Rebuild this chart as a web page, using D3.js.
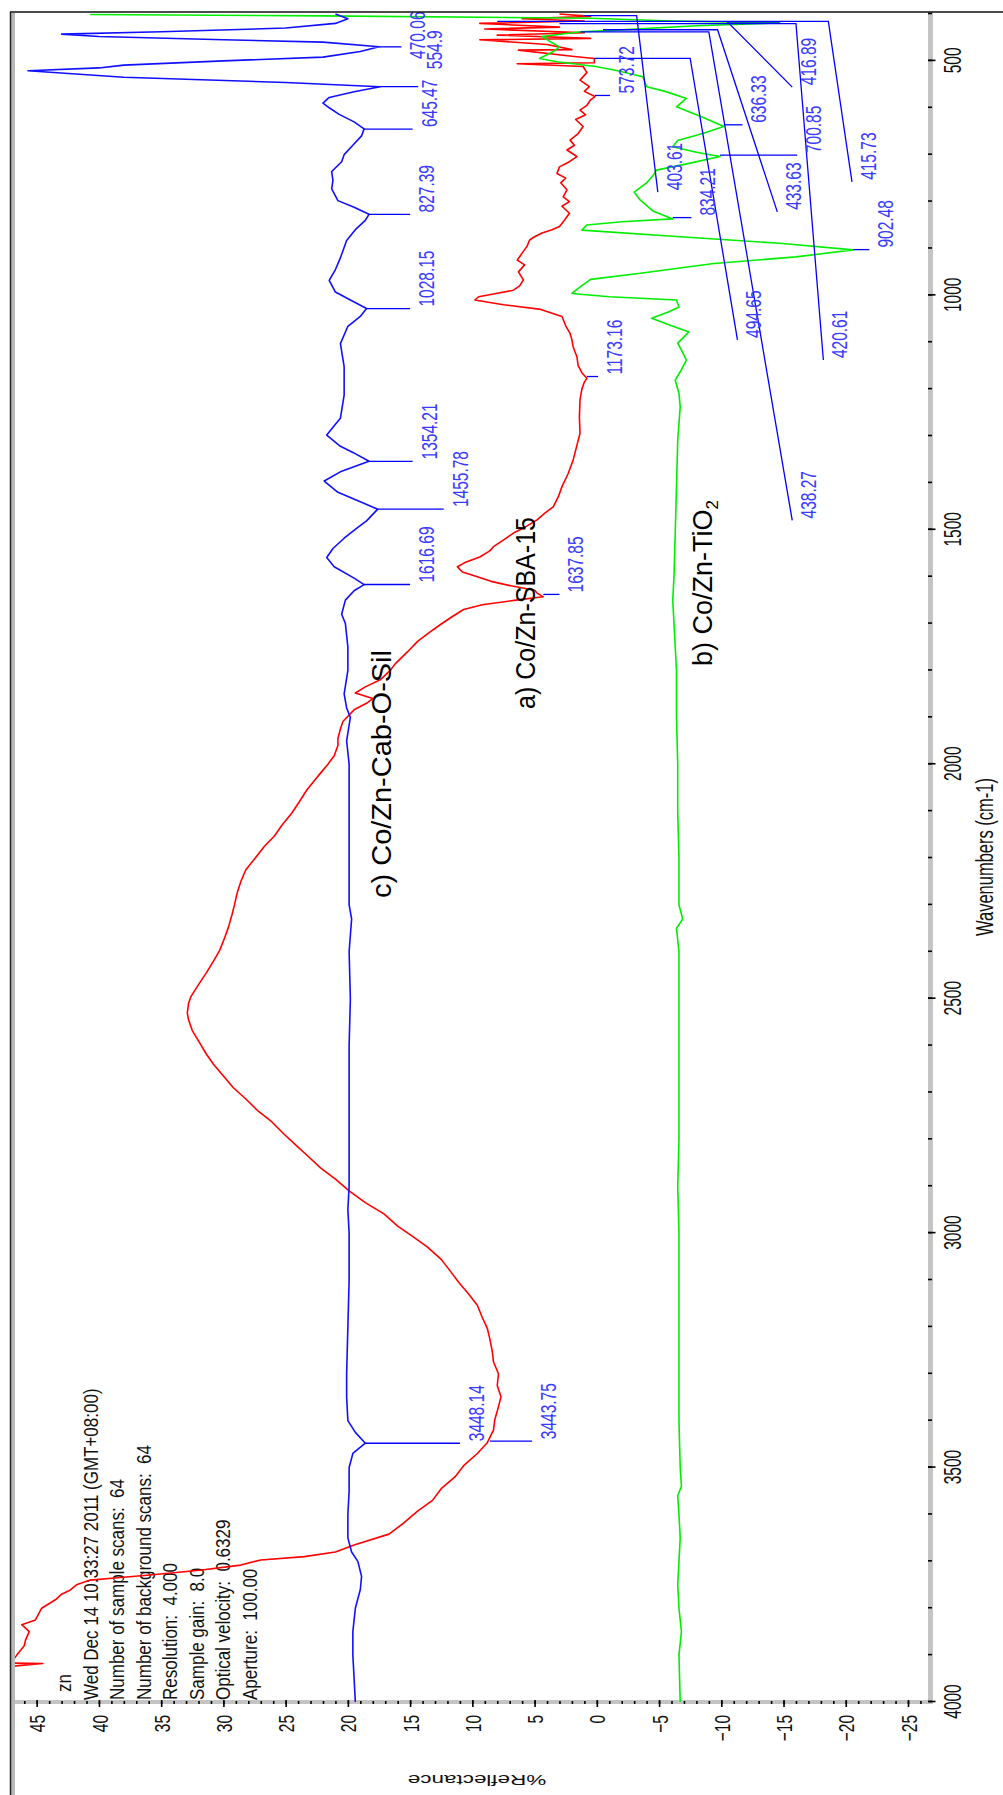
<!DOCTYPE html>
<html>
<head>
<meta charset="utf-8">
<script src="https://cdn.jsdelivr.net/npm/d3@7"></script>
<style>
  html, body { margin: 0; padding: 0; background: #ffffff; }
  svg { display: block; }
  text { font-family: "Liberation Sans", Arial, sans-serif; white-space: pre; }
</style>
</head>
<body>
<svg id="chart" width="1003" height="1795"></svg>
<script>
// ---------------- data ----------------
const wavenumberTicks = [500, 1000, 1500, 2000, 2500, 3000, 3500, 4000];
const reflectanceTicks = [-25, -20, -15, -10, -5, 0, 5, 10, 15, 20, 25, 30, 35, 40, 45];

// a) Co/Zn-SBA-15 (red)
const wnSBA = [4000, 3950, 3925, 3918, 3917, 3915, 3900, 3880, 3868, 3850, 3835, 3825, 3800, 3782, 3770, 3761, 3750, 3740, 3735, 3729, 3719, 3708, 3697, 3690, 3680, 3665, 3642, 3620, 3593, 3570, 3545, 3520, 3496, 3470, 3447, 3420, 3398, 3370, 3349, 3325, 3300, 3275, 3252, 3225, 3203, 3180, 3154, 3130, 3105, 3080, 3056, 3030, 3007, 2985, 2959, 2935, 2910, 2885, 2861, 2836, 2812, 2787, 2763, 2740, 2714, 2690, 2665, 2640, 2617, 2590, 2568, 2545, 2531, 2510, 2495, 2470, 2446, 2420, 2397, 2370, 2348, 2320, 2299, 2275, 2250, 2225, 2202, 2175, 2153, 2130, 2104, 2080, 2055, 2035, 2019, 2000, 1982, 1960, 1945, 1925, 1909, 1895, 1884, 1870, 1860, 1848, 1835, 1820, 1800, 1786, 1760, 1738, 1720, 1701, 1685, 1670, 1660, 1650, 1643, 1635, 1629, 1620, 1610, 1600, 1590, 1579, 1570, 1558, 1545, 1536, 1520, 1507, 1495, 1479, 1465, 1451, 1430, 1408, 1380, 1351, 1320, 1294, 1260, 1223, 1200, 1185, 1177, 1165, 1150, 1131, 1110, 1095, 1081, 1065, 1045, 1030, 1020, 1010, 1003, 997, 989, 980, 967, 950, 935, 925, 910, 895, 882, 875, 867, 860, 853, 840, 825, 810, 800, 790, 775, 760, 750, 740, 726, 715, 704, 690, 680, 669, 655, 640, 625, 615, 605, 595, 583, 576, 565, 555, 541, 525, 512, 506, 504, 495, 490, 477, 476, 465, 455, 452, 445, 440, 432, 428, 420, 415, 410, 405, 400];
const refSBA = [49, 48.5, 47.6, 44.5, 47.2, 47.0, 46.6, 46.0, 45.9, 45.6, 46.2, 45.1, 44.6, 43.5, 43.0, 42.3, 41.8, 40.7, 38.5, 35.9, 31.9, 28.6, 27.0, 23.5, 21.0, 19.5, 16.7, 15.6, 14.4, 13.2, 12.5, 11.4, 10.7, 9.6, 8.8, 8.3, 8.2, 7.9, 7.7, 8.0, 7.9, 8.3, 8.4, 8.6, 8.8, 9.2, 9.6, 10.3, 11.1, 11.8, 12.5, 13.6, 14.8, 16.0, 17.1, 18.6, 19.9, 21.0, 22.2, 23.2, 24.2, 25.2, 26.1, 27.2, 28.2, 29.2, 30.0, 30.8, 31.4, 32.0, 32.5, 32.8, 32.9, 32.8, 32.6, 32.0, 31.4, 30.8, 30.3, 29.9, 29.6, 29.3, 29.1, 28.9, 28.6, 28.2, 27.5, 26.7, 25.9, 25.3, 24.5, 23.9, 23.3, 22.7, 22.2, 21.6, 21.1, 20.8, 20.8, 20.6, 20.4, 19.9, 19.5, 18.5, 18.0, 19.4, 18.6, 17.4, 16.6, 16.2, 15.2, 14.4, 13.5, 12.5, 11.6, 10.7, 9.2, 6.5, 4.3, 4.8, 5.0, 6.8, 8.5, 9.6, 10.8, 11.2, 10.6, 9.4, 8.6, 8.3, 7.4, 6.7, 5.8, 4.8, 4.2, 3.5, 3.1, 2.8, 2.3, 1.9, 1.6, 1.35, 1.4, 1.35, 1.2, 1.0, 0.8, 1.2, 1.5, 1.6, 1.9, 2.0, 2.15, 2.5, 2.8, 4.5, 7.5, 9.8, 9.5, 8.3, 6.7, 6.2, 5.9, 6.3, 5.8, 6.4, 6.0, 5.6, 5.4, 5.0, 4.4, 3.6, 3.0, 2.6, 2.2, 2.8, 2.2, 2.7, 2.4, 2.9, 2.5, 3.2, 3.0, 2.2, 1.6, 2.4, 1.8, 2.15, 1.5, 1.1, 1.7, 0.9, 1.35, 0.8, 0.5, 0.15, 1.0, 0.6, 1.35, 0.8, 1.1, 6.4, 0.2, 0.2, 2.0, 6.3, 2.0, 4.0, 9.4, 0.5, 8.0, 1.0, 9.0, 3.0, 9.4, 1.0, 6.0, 0.5, 3.0];

// b) Co/Zn-TiO2 (green)
const wnTiO2 = [4000, 3900, 3850, 3800, 3750, 3700, 3650, 3600, 3560, 3540, 3500, 3400, 3300, 3200, 3100, 3000, 2900, 2800, 2700, 2600, 2500, 2400, 2350, 2330, 2300, 2200, 2100, 2000, 1900, 1800, 1700, 1650, 1600, 1507, 1408, 1309, 1238, 1209, 1181, 1163, 1138, 1117, 1102, 1078, 1065, 1049, 1035, 1025, 1010, 1003, 996, 985, 966, 953, 932, 918, 903, 889, 875, 861, 850, 843, 837, 820, 797, 780, 760, 745, 733, 718, 704, 695, 683, 670, 655, 640, 620, 598, 580, 565, 555, 534, 520, 512, 502, 495, 480, 470, 458, 448, 438, 436, 425, 419, 415, 409, 404, 401];
const refTiO2 = [-6.7, -6.6, -6.8, -6.6, -6.5, -6.6, -6.7, -6.6, -6.5, -6.8, -6.7, -6.6, -6.6, -6.6, -6.6, -6.6, -6.5, -6.6, -6.6, -6.6, -6.6, -6.6, -6.4, -6.9, -6.6, -6.6, -6.5, -6.5, -6.4, -6.4, -6.2, -6.1, -6.2, -6.3, -6.4, -6.5, -6.7, -6.6, -6.3, -6.7, -7.2, -6.8, -6.5, -7.4, -6.0, -4.4, -5.8, -6.6, -6.4, -1.0, 2.0, 1.5, 0.5, -3.5, -9.4, -16.0, -20.6, -14.7, -6.7, 1.2, 0.8, -2.0, -6.1, -4.5, -3.5, -3.0, -4.0, -4.5, -4.8, -7.5, -9.9, -8.0, -6.1, -6.5, -8.5, -10.2, -8.5, -6.4, -7.2, -5.5, -4.0, -3.7, -1.5, 0.1, 3.2, 4.6, 3.5, 3.0, 3.8, 4.4, 1.3, -0.5, -8.0, -14.7, -6.0, 0.5, 22.0, 40.7];

// c) Co/Zn-Cab-O-Sil (blue)
const wnCab = [4000, 3950, 3900, 3850, 3800, 3760, 3732, 3700, 3680, 3650, 3600, 3550, 3500, 3470, 3448, 3425, 3400, 3350, 3300, 3200, 3100, 3000, 2950, 2900, 2800, 2700, 2600, 2500, 2400, 2330, 2300, 2200, 2100, 2000, 1950, 1900, 1880, 1850, 1800, 1750, 1700, 1680, 1650, 1630, 1617, 1603, 1579, 1559, 1540, 1518, 1495, 1481, 1456, 1440, 1420, 1396, 1375, 1354, 1335, 1322, 1298, 1275, 1262, 1213, 1152, 1103, 1066, 1045, 1028, 1010, 993, 968, 945, 920, 883, 860, 840, 827, 812, 798, 773, 755, 736, 715, 700, 680, 660, 645, 630, 614, 600, 590, 578, 566, 555, 546, 535, 521, 515, 509, 500, 492, 480, 470, 460, 455, 448, 443, 438, 430, 420, 410, 400];
const refCab = [19.4, 19.5, 19.6, 19.6, 19.4, 19.0, 18.9, 19.2, 19.7, 20.0, 20.0, 19.9, 19.9, 19.6, 18.6, 19.4, 20.0, 20.1, 20.1, 20.0, 19.9, 19.9, 20.0, 19.9, 19.9, 19.9, 19.9, 19.8, 19.9, 19.7, 19.9, 19.9, 19.9, 19.9, 20.1, 19.8, 20.1, 20.3, 20.0, 20.0, 20.2, 20.5, 20.2, 19.5, 18.7, 19.5, 21.1, 21.7, 21.2, 20.3, 19.2, 18.5, 17.6, 19.0, 20.8, 21.9, 20.5, 18.3, 19.6, 20.6, 21.7, 21.0, 20.6, 20.3, 20.3, 20.6, 20.0, 19.0, 18.5, 19.8, 21.0, 21.5, 21.0, 20.6, 20.1, 19.4, 18.6, 18.3, 19.5, 20.8, 21.3, 21.2, 21.3, 20.5, 20.3, 19.6, 18.9, 18.7, 19.5, 20.7, 21.5, 22.0, 21.5, 19.5, 17.4, 25.0, 38.0, 45.7, 40.0, 38.0, 30.0, 22.0, 19.0, 17.5, 22.0, 30.0, 40.0, 43.0, 35.0, 25.0, 21.0, 20.0, 21.0];

// peak labels: text, peak (wavenumber, reflectance), optional knee, leader end, text start
const peakText = ["3448.14", "3443.75", "1616.69", "1637.85", "1455.78", "1354.21", "1173.16", "1028.15", "827.39", "645.47", "554.9", "470.06", "573.72", "834.21", "902.48", "700.85", "636.33", "494.65", "403.61", "433.63", "438.27", "416.89", "415.73", "420.61"];
const peakWn = [3448.14, 3443.75, 1616.69, 1637.85, 1455.78, 1354.21, 1173.16, 1028.15, 827.39, 645.47, 554.9, 470.06, 573.72, 834.21, 902.48, 700.85, 636.33, 494.65, 403.61, 433.63, 438.27, 416.89, 415.73, 420.61];
const peakRef = [18.6, 8.6, 18.7, 4.3, 17.6, 18.3, 0.8, 18.5, 18.3, 18.7, 17.4, 17.5, 0.15, -6.1, -20.6, -9.9, -10.2, 0.2, 1.0, -0.5, 1.3, -14.7, 8.0, 3.0];
const kneeWn = [null, null, null, null, null, null, null, null, null, null, null, null, null, null, null, null, null, 494.65, 403.61, 433.63, 438.27, 416.89, 415.73, 420.61];
const kneeRef = [null, null, null, null, null, null, null, null, null, null, null, null, null, null, null, null, null, -7.5, -3.2, -9.7, -9.0, -10.5, -18.6, -16.0];
const endWn = [3448.14, 3443.75, 1616.69, 1637.85, 1455.78, 1354.21, 1173.16, 1028.15, 827.39, 645.47, 554.9, 470.06, 573.72, 834.21, 902.48, 700.85, 636.33, 1095, 780, 822, 1480, 556, 758, 1138];
const endRef = [11.0, 5.2, 15.0, 3.0, 12.3, 14.8, -0.1, 15.0, 15.0, 14.8, 14.35, 15.7, -1.06, -7.6, -21.9, -16.1, -11.7, -11.3, -4.9, -14.5, -15.7, -15.7, -20.5, -18.2];
const textWn = [3448.14, 3443.75, 1616.69, 1637.85, 1455.78, 1354.21, 1173.16, 1028.15, 827.39, 645.47, 522, 500, 573.72, 834.21, 902.48, 700.85, 636.33, 1095, 780, 822, 1480, 556, 758, 1138];

const sampleNames = ["a) Co/Zn-SBA-15", "b) Co/Zn-TiO", "c) Co/Zn-Cab-O-Sil"];
const infoLines = ["zn", "Wed Dec 14 10:33:27 2011 (GMT+08:00)", "Number of sample scans:  64", "Number of background scans:  64", "Resolution:  4.000", "Sample gain:  8.0", "Optical velocity:  0.6329", "Aperture:  100.00"];

// ---------------- layout ----------------
const svg = d3.select("#chart");
// the spectrum is laid out in a landscape frame and turned a quarter turn counter-clockwise
const g = svg.append("g").attr("transform", "translate(0,1795) rotate(-90)");
const U0 = 93, U1 = 1783, V0 = 12, V1 = 931;
const x = d3.scaleLinear().domain([4000, 400]).range([93, 1781]);
const y = d3.scaleLinear().domain([45, -25]).range([36.7, 908]);
const TS = 1.45;   // tall glyph stretch of the instrument fonts

// window border with its shading
svg.append("rect").attr("x", 11).attr("y", 13).attr("width", 4).attr("height", 1782).attr("fill", "#b8b8b8");
svg.append("line").attr("x1", 10.5).attr("x2", 10.5).attr("y1", 12).attr("y2", 1795).attr("stroke", "#222").attr("stroke-width", 1.5);
svg.append("line").attr("x1", 10).attr("x2", 1003).attr("y1", 12).attr("y2", 12).attr("stroke", "#111").attr("stroke-width", 1.5);

g.append("defs").append("clipPath").attr("id", "plotClip")
  .append("rect").attr("x", U0).attr("y", V0 + 1).attr("width", U1 - U0).attr("height", V1 - V0 - 3);

// axis bars
g.append("rect").attr("x", U0 - 2).attr("y", V0).attr("width", 4).attr("height", V1 - V0 + 2).attr("fill", "#c4c4c4");
g.append("rect").attr("x", U0 - 2).attr("y", V1 - 3).attr("width", U1 - U0 + 2).attr("height", 5).attr("fill", "#c4c4c4");

// reflectance axis (left side of the landscape frame)
const minorRef = d3.range(-26, 47);
const yMinor = g.append("g").attr("transform", `translate(${U0 + 1},0)`)
  .call(d3.axisLeft(y).tickValues(minorRef).tickSize(3).tickFormat(""));
yMinor.select(".domain").remove();
yMinor.selectAll("line").attr("stroke", "#000").attr("stroke-width", 1.6);

const yAxis = g.append("g").attr("transform", `translate(${U0 + 2},0)`)
  .call(d3.axisLeft(y).tickValues(reflectanceTicks).tickSize(7).tickFormat(d3.format("d")));
yAxis.select(".domain").remove();
yAxis.selectAll("line").attr("stroke", "#000").attr("stroke-width", 1.6);
yAxis.selectAll("text")
  .attr("x", null).attr("dy", null)
  .attr("transform", `translate(-15,0) scale(1,${TS})`)
  .attr("dy", "0.36em")
  .attr("text-anchor", "end")
  .style("font-size", "15.5px").style("font-family", "Liberation Sans, Arial, sans-serif").attr("fill", "#111");

// wavenumber axis (bottom side of the landscape frame)
const xMinor = g.append("g").attr("transform", `translate(0,${V1 - 3})`)
  .call(d3.axisBottom(x).tickValues(d3.range(400, 4001, 100)).tickSize(4).tickFormat(""));
xMinor.select(".domain").remove();
xMinor.selectAll("line").attr("stroke", "#000").attr("stroke-width", 1.6);

const xAxis = g.append("g").attr("transform", `translate(0,${V1 - 3})`)
  .call(d3.axisBottom(x).tickValues(wavenumberTicks).tickSize(7.5).tickFormat(d3.format("d")));
xAxis.select(".domain").remove();
xAxis.selectAll("line").attr("stroke", "#000").attr("stroke-width", 1.6);
xAxis.selectAll("text")
  .attr("y", null).attr("dy", null)
  .attr("transform", `translate(0,15) scale(1,1.6)`)
  .attr("dy", "0.72em")
  .style("font-size", "15.5px").style("font-family", "Liberation Sans, Arial, sans-serif").attr("fill", "#111");

// axis titles
g.append("text").text("Wavenumbers (cm-1)")
  .attr("transform", `translate(938,${V1 + 62}) scale(1,${TS})`)
  .attr("text-anchor", "middle").style("font-size", "16.5px").attr("fill", "#111");
g.append("text").text("%Reflectance")
  .attr("transform", `translate(20,477) rotate(-90) scale(${TS},1)`)
  .attr("text-anchor", "middle").style("font-size", "15.5px").attr("fill", "#111");

// acquisition info block
g.append("g").selectAll("text").data(infoLines).join("text")
  .text(d => d)
  .attr("transform", (d, i) => `translate(${i === 0 ? 103 : 95},${71 + i * 26.5}) scale(1,1.23)`)
  .style("font-size", "17px").attr("fill", "#111");

// spectra
const plotArea = g.append("g").attr("clip-path", "url(#plotClip)");
const line = d3.line().x(d => x(d[0])).y(d => y(d[1]));
const spectra = [
  { wn: wnSBA, ref: refSBA, color: "#ff0000" },
  { wn: wnTiO2, ref: refTiO2, color: "#00ee00" },
  { wn: wnCab, ref: refCab, color: "#1010ff" }
];
plotArea.selectAll("path.spec").data(spectra).join("path")
  .attr("class", "spec")
  .attr("d", s => line(d3.zip(s.wn, s.ref)))
  .attr("fill", "none").attr("stroke", s => s.color).attr("stroke-width", 1.6)
  .attr("stroke-linejoin", "round");

// peak labels with their leaders
const peaks = peakText.map((t, i) => ({
  t, pw: peakWn[i], pr: peakRef[i], kw: kneeWn[i], kr: kneeRef[i], ew: endWn[i], er: endRef[i], tw: textWn[i]
}));
const leader = d3.line().x(d => d[0]).y(d => d[1]);
const labels = g.append("g");
labels.selectAll("path").data(peaks).join("path")
  .attr("d", p => {
    const pts = [[x(p.pw), y(p.pr)]];
    if (p.kw !== null) pts.push([x(p.kw), y(p.kr)]);
    pts.push([x(p.ew), y(p.er)]);
    return leader(pts);
  })
  .attr("fill", "none").attr("stroke", "#0000ff").attr("stroke-width", 1.3);
labels.selectAll("text").data(peaks).join("text")
  .text(p => p.t)
  .attr("transform", p => `translate(${x(p.tw) + 2},${y(p.er) + 24}) scale(1,${TS})`)
  .style("font-size", "15.5px").attr("fill", "#3a3aff");

// sample names
const names = g.append("g").attr("fill", "#000").style("font-size", "27px");
names.append("text").text(sampleNames[0])
  .attr("x", 1278).attr("y", 535).attr("text-anchor", "end")
  .attr("textLength", 192).attr("lengthAdjust", "spacingAndGlyphs");
const nb = names.append("text").attr("x", 1295).attr("y", 712).attr("text-anchor", "end");
nb.append("tspan").text(sampleNames[1]);
nb.append("tspan").text("2").style("font-size", "17px").attr("dy", 6);
names.append("text").text(sampleNames[2])
  .attr("x", 1145).attr("y", 391).attr("text-anchor", "end")
  .attr("textLength", 248).attr("lengthAdjust", "spacingAndGlyphs");
</script>
</body>
</html>
